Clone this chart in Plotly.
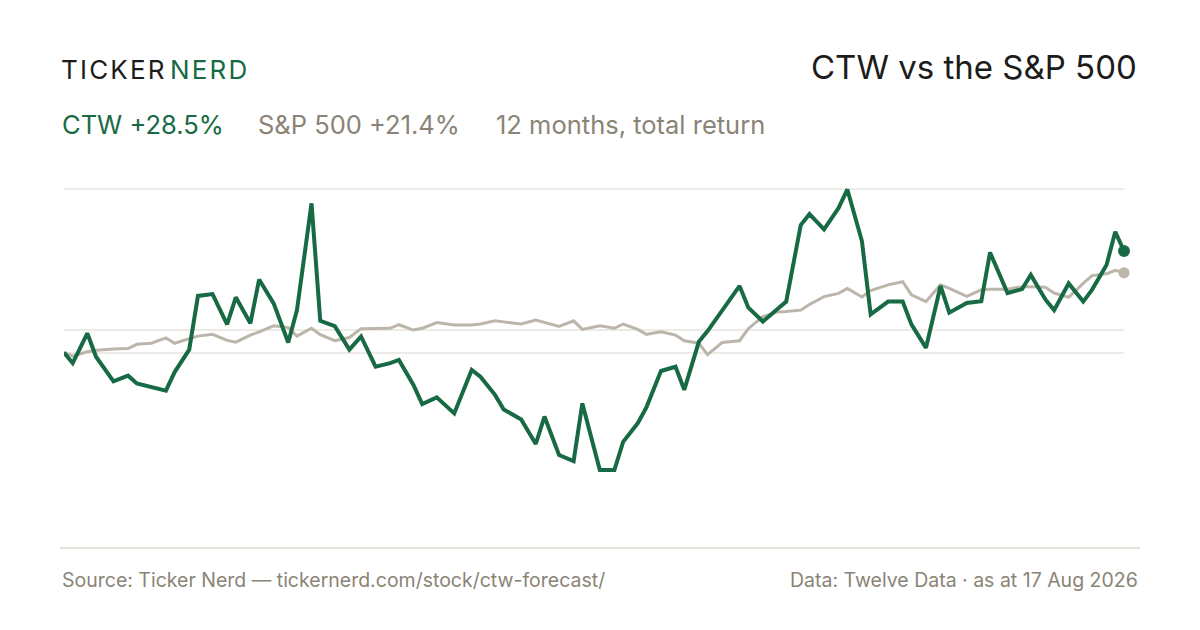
import pandas as pd
import plotly.graph_objects as go

# ---- data -------------------------------------------------------------
# NYSE trading days, 18 Aug 2025 -> 17 Aug 2026, every 3rd session plus the last one
holidays = ["2025-09-01", "2025-11-27", "2025-12-25", "2026-01-01", "2026-01-19",
            "2026-02-16", "2026-04-03", "2026-05-25", "2026-06-19", "2026-07-03"]
sessions = pd.bdate_range("2025-08-18", "2026-08-17", freq="C", holidays=holidays)
dates = list(sessions[::3])
if dates[-1] != sessions[-1]:
    dates.append(sessions[-1])

# cumulative return, %
ctw = [0.0, -3.0, 5.4, -1.2, -8.1, -6.5, -8.7, -9.7, -10.7, -5.5,
       0.8, 15.9, 16.4, 7.9, 15.5, 8.2, 20.5, 13.8, 2.8, 11.9,
       41.9, 8.9, 7.4, 0.8, 4.5, -4.0, -3.0, -2.1, -9.1, -14.5,
       -12.6, -17.1, -4.9, -6.8, -11.9, -16.0, -18.8, -25.7, -18.0, -28.8,
       -30.5, -14.3, -33.0, -33.0, -25.1, -19.9, -15.4, -5.2, -4.0, -10.5,
       3.0, 6.0, 11.9, 18.7, 12.6, 8.7, 12.2, 14.3, 35.8, 38.9,
       34.6, 40.6, 45.8, 31.3, 10.7, 14.3, 14.3, 7.9, 1.3, 18.7,
       11.2, 13.9, 14.4, 28.1, 16.7, 17.8, 21.8, 14.9, 11.9, 19.4,
       14.3, 17.6, 24.6, 33.9, 28.5]
spx = [0.0, -1.0, 0.2, 0.6, 1.0, 1.1, 2.3, 2.6, 4.1, 2.6,
       3.9, 4.6, 5.1, 3.4, 2.9, 4.9, 5.8, 7.5, 7.0, 4.6,
       6.8, 5.0, 3.3, 4.2, 6.7, 6.8, 6.8, 7.8, 6.3, 6.8,
       8.4, 7.7, 7.7, 8.0, 8.9, 8.6, 8.0, 9.1, 8.4, 7.3,
       8.9, 6.5, 7.5, 6.8, 8.0, 6.5, 5.1, 5.8, 4.9, 3.3,
       2.6, -0.6, 2.8, 3.3, 6.7, 10.1, 11.4, 11.5, 11.9, 13.5,
       15.7, 16.6, 18.0, 15.6, 17.4, 19.0, 19.9, 16.2, 14.3, 19.0,
       18.0, 15.8, 17.6, 17.8, 17.8, 18.5, 18.5, 18.3, 16.7, 15.5,
       19.4, 21.6, 22.1, 23.1, 22.4]

ctw_label = "CTW +28.5%"
spx_label = "S&P 500 +21.4%"
period_label = "12 months, total return"

# ---- style ------------------------------------------------------------
GREEN = "#176a43"
SPX_GREY = "#bcb5aa"
TEXT_GREY = "#8a8476"
DARK = "#1c1c1c"
GRID = "#ecebe6"
FONT = "Inter, 'Noto Sans', sans-serif"

OFF = 8                      # page body margin
W, H = 1200 - 2 * OFF, 630 - 2 * OFF
L, R, T, B = 64, 1124, 180, 540  # plot area in page px


def px(x):
    return (x - L) / (R - L)


def py(y):
    return (B - y) / (B - T)


k = 3.56
zero_px = 352.5
y_range = [(zero_px - B) / k, (zero_px - T) / k]

top = max(ctw)
mid = (max(ctw) + min(ctw)) / 2

fig = go.Figure()
fig.add_trace(go.Scatter(x=dates, y=spx, mode="lines",
                         line=dict(color=SPX_GREY, width=3), hoverinfo="skip",
                         cliponaxis=False))
fig.add_trace(go.Scatter(x=dates, y=ctw, mode="lines",
                         line=dict(color=GREEN, width=4), hoverinfo="skip",
                         cliponaxis=False))
fig.add_trace(go.Scatter(x=[dates[-1]], y=[spx[-1]], mode="markers",
                         marker=dict(color=SPX_GREY, size=11), hoverinfo="skip",
                         cliponaxis=False))
fig.add_trace(go.Scatter(x=[dates[-1]], y=[ctw[-1]], mode="markers",
                         marker=dict(color=GREEN, size=12), hoverinfo="skip",
                         cliponaxis=False))

fig.update_xaxes(range=[dates[0], dates[-1]], showgrid=False, zeroline=False,
                 showticklabels=False, ticks="", showline=False)
fig.update_yaxes(range=y_range, tickvals=[0, mid, top], showgrid=True,
                 gridcolor=GRID, gridwidth=1.5, zeroline=False,
                 showticklabels=False, ticks="", showline=False)


def note(x, y, text, size, color, anchor="left", spacing=None):
    if spacing:
        text = '<span style="letter-spacing:%spx">%s</span>' % (spacing, text)
    return dict(x=px(x), y=py(y), xref="paper", yref="paper",
                xanchor=anchor, yanchor="middle", showarrow=False,
                text=text, font=dict(family=FONT, size=size, color=color))


ann = [
    note(59, 70, "TICKER", 26, DARK, spacing=2.2),
    note(168, 70, "NERD", 26, GREEN, spacing=2.2),
    note(1139, 67, "CTW vs the S&amp;P 500", 33, DARK, anchor="right"),
    note(60, 124, ctw_label, 25.5, GREEN),
    note(256, 124, spx_label.replace("&", "&amp;"), 25.5, TEXT_GREY),
    note(494, 124, period_label, 25.5, TEXT_GREY),
    note(60, 580, "Source: Ticker Nerd — tickernerd.com/stock/ctw-forecast/", 19.5, TEXT_GREY),
    note(1140, 580, "Data: Twelve Data · as at 17 Aug 2026", 19.5, TEXT_GREY, anchor="right"),
]

shapes = [dict(type="line", xref="paper", yref="paper",
               x0=px(60), x1=px(1140), y0=py(548), y1=py(548),
               line=dict(color="#dedad0", width=1.5))]

fig.update_layout(width=W, height=H,
                  margin=dict(l=L - OFF, r=1200 - OFF - R, t=T - OFF, b=630 - OFF - B),
                  paper_bgcolor="white", plot_bgcolor="white",
                  showlegend=False, annotations=ann, shapes=shapes,
                  font=dict(family=FONT))

fig.write_html("out.html", config={"displayModeBar": False})
